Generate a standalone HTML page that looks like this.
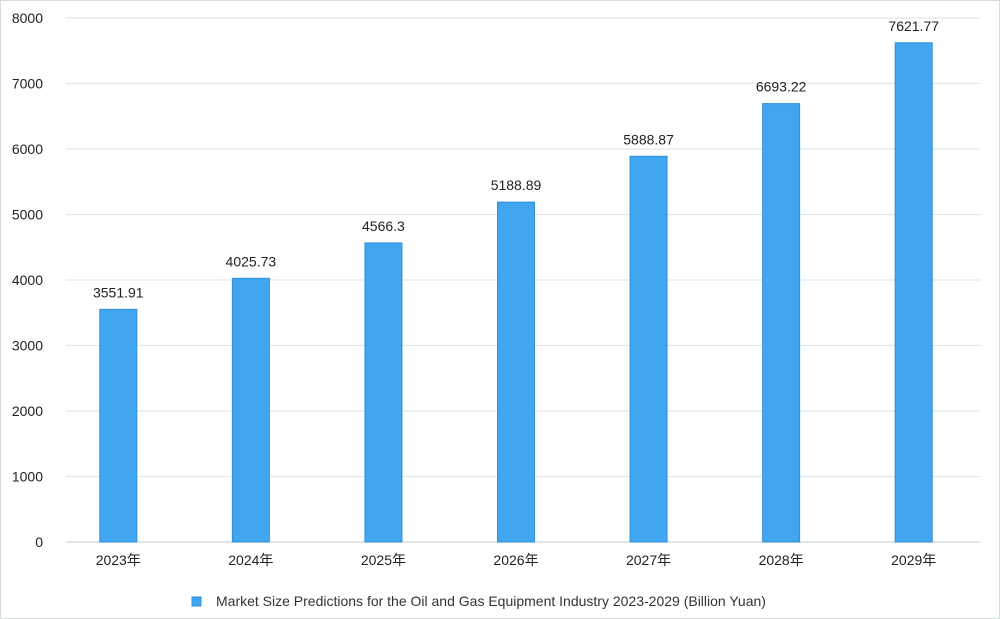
<!DOCTYPE html>
<html><head><meta charset="utf-8"><style>
html,body{margin:0;padding:0;background:#fff;}
svg{display:block;font-family:"Liberation Sans","Noto Sans CJK SC",sans-serif;}
</style></head><body>
<svg width="1000" height="619" viewBox="0 0 1000 619">
<rect x="0.5" y="0.5" width="999" height="618" fill="#fff" stroke="#d3dcd8"/>
<g id="grid"></g><g id="bars"></g><g id="labels"></g>
<g>
<rect x="192" y="597" width="9" height="9" fill="#42a5f0" stroke="#2f8fd8"/>
<text x="216" y="606" font-size="14" fill="#333">Market Size Predictions for the Oil and Gas Equipment Industry 2023-2029 (Billion Yuan)</text>
</g>
</svg>
<script>
const categories=["2023年","2024年","2025年","2026年","2027年","2028年","2029年"];
const values=[3551.91,4025.73,4566.3,5188.89,5888.87,6693.22,7621.77];
const valueLabels=["3551.91","4025.73","4566.3","5188.89","5888.87","6693.22","7621.77"];
const yTicks=[0,1000,2000,3000,4000,5000,6000,7000,8000];
const NS="http://www.w3.org/2000/svg";
const x0=52,x1=980,y0=542,y1=18,yMax=8000;
const bw=(x1-x0)/categories.length;
const y=v=>y0-(v/yMax)*(y0-y1);
const xc=i=>x0+bw*(i+0.5);
function mk(tag,attrs,parent,txt){const e=document.createElementNS(NS,tag);for(const k in attrs)e.setAttribute(k,attrs[k]);if(txt!==undefined)e.textContent=txt;parent.appendChild(e);return e;}
const grid=document.getElementById('grid'),bars=document.getElementById('bars'),labels=document.getElementById('labels');
yTicks.forEach(t=>{
 const l=mk('line',{x1:66,x2:980,y1:y(t),y2:y(t),stroke:t===0?'#d0d6d8':'#e2e7e9','stroke-width':1.2},grid);
 
 
 const tx=mk('text',{x:43,y:y(t)+5,'text-anchor':'end','font-size':14,fill:'#222'},grid,String(t));
 
 
});
categories.forEach((c,i)=>{
 const w=37;
 const r=mk('rect',{x:xc(i)-w/2,y:y(values[i]),width:w,height:y0-y(values[i]),fill:'#42a5f0',stroke:'#2f8fd8','stroke-width':1},bars);
 
 
 const v=mk('text',{x:xc(i),y:y(values[i])-12,'text-anchor':'middle','font-size':14,fill:'#222'},labels,valueLabels[i]);
 
 
 const xl=mk('text',{x:xc(i),y:565,'text-anchor':'middle','font-size':14,fill:'#222'},labels,c);
 
 
});
</script>
</body></html>
